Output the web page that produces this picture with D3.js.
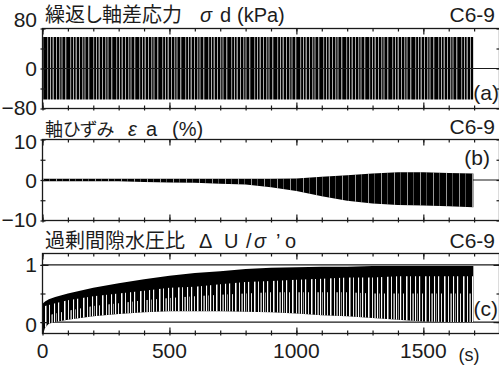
<!DOCTYPE html>
<html><head><meta charset="utf-8">
<script src="https://cdn.jsdelivr.net/npm/d3@7"></script>
<style>
html,body{margin:0;padding:0;background:#fff;}
svg{display:block;}
text{font-family:"Liberation Sans",Arial,sans-serif;fill:#1c1c1c;}
.jp{font-family:"Noto Sans CJK JP",sans-serif;font-feature-settings:"palt";}
</style></head><body>
<svg id="c" width="499" height="366"></svg>
<script>
// ---- data (envelopes of the cyclic records) ----
const xTickLabels = [0, 500, 1000, 1500];
const xMinorTicks = [0,100,200,300,400,500,600,700,800,900,1000,1100,1200,1300,1400,1500,1600,1700,1800];

const stressTimes = [0, 200, 400, 600, 800, 1000, 1200, 1400, 1600, 1697];
const stressUpper = [63, 63, 63, 63, 63, 63, 63, 63, 63, 63];
const stressLower = [-62, -62, -62, -62, -62, -62, -62, -62, -62, -62];

const strainTimes = [0, 100, 200, 300, 400, 500, 600, 700, 800, 900, 1000, 1100, 1200, 1300, 1400, 1500, 1600, 1697];
const strainUpper = [0.3, 0.3, 0.3, 0.3, 0.3, 0.3, 0.3, 0.3, 0.3, 0.3, 0.4, 0.8, 1.2, 1.6, 1.9, 1.9, 1.7, 1.6];
const strainLower = [-0.3, -0.3, -0.3, -0.3, -0.5, -0.6, -0.7, -0.9, -1.1, -1.8, -2.7, -4.0, -5.1, -5.8, -6.2, -6.3, -6.5, -6.7];

const ruTimes = [0, 10, 25, 50, 100, 200, 300, 400, 500, 600, 700, 800, 900, 1000, 1100, 1200, 1300, 1400, 1500, 1600, 1697];
const ruUpper = [0.32, 0.36, 0.40, 0.44, 0.50, 0.60, 0.68, 0.75, 0.81, 0.86, 0.89, 0.93, 0.95, 0.96, 0.97, 0.97, 0.98, 0.98, 0.98, 0.98, 0.98];
const ruLower = [-0.25, -0.1, -0.03, 0.0, 0.04, 0.10, 0.14, 0.17, 0.19, 0.19, 0.19, 0.18, 0.17, 0.15, 0.12, 0.10, 0.07, 0.04, 0.01, 0.0, 0.0];
const ruStripeTop = [0.25, 0.28, 0.3, 0.33, 0.38, 0.45, 0.5, 0.55, 0.6, 0.62, 0.66, 0.7, 0.72, 0.74, 0.76, 0.78, 0.78, 0.8, 0.8, 0.8, 0.8];
const ruStripeMid = [0.1, 0.1, 0.12, 0.15, 0.2, 0.28, 0.33, 0.38, 0.42, 0.45, 0.48, 0.5, 0.52, 0.52, 0.52, 0.52, 0.5, 0.5, 0.5, 0.5, 0.5];

const yTicksA = [-80, -40, 0, 40, 80];
const yLabelsA = ["80", "0", "−80"];
const yTicksB = [-10, -5, 0, 5, 10];
const yLabelsB = ["10", "0", "−10"];
const yTicksC = [0, 0.5, 1];
const yLabelsC = ["1", "0"];

// ---- layout ----
const svg = d3.select('#c');
const L = 42.5, R = 499.5;
const x = d3.scaleLinear().domain([0, 1800]).range([L, R]);

const defs = svg.append('defs');
function pattern(id, w, bg, lines) {
  const p = defs.append('pattern').attr('id', id).attr('patternUnits', 'userSpaceOnUse')
    .attr('width', w).attr('height', 8);
  if (bg) p.append('rect').attr('width', w).attr('height', 8).attr('fill', bg);
  lines.forEach(l => p.append('rect').attr('x', l[0]).attr('y', 0).attr('width', l[1]).attr('height', 8).attr('fill', l[2]));
}
pattern('patA', 23, '#000', [[1, 1.2, '#8a8a8a'], [4, 1, '#b0b0b0'], [6.5, 1.5, '#999'], [10, 1, '#aaa'],
  [13, 1.3, '#8c8c8c'], [15.5, 1, '#bbb'], [19, 1.4, '#999']]);
pattern('patB', 13, null, [[4, 1, '#ffffff'], [10, 0.6, '#dddddd']]);
pattern('patC', 19, null, [[1, 1.2, '#fff'], [7, 1.5, '#fff'], [11, 1, '#eee'], [16, 1.1, '#fff']]);
pattern('patC2', 19, null, [[4, 0.9, '#fff'], [13.5, 1.2, '#fff'], [18, 0.7, '#ddd']]);

const panels = [
  {id: 'a', top: 28.5, bottom: 108.5, dom: [-80, 80]},
  {id: 'b', top: 139.5, bottom: 220.5, dom: [-10, 10]},
  {id: 'c', top: 253.5, bottom: 333.5, dom: [-0.2, 1.2]}
];
panels.forEach(p => {
  p.y = d3.scaleLinear().domain(p.dom).range([p.bottom, p.top]);
  defs.append('clipPath').attr('id', 'clip' + p.id).append('rect')
    .attr('x', L).attr('y', p.top).attr('width', R - L).attr('height', p.bottom - p.top);
});
const [pa, pb, pc] = panels;

function bandArea(p, times, lo, hi) {
  const rows = times.map((t, i) => ({t, lo: lo[i], hi: hi[i]}));
  return d3.area().x(d => x(d.t)).y0(d => p.y(d.lo)).y1(d => p.y(d.hi))(rows);
}

function hline(p, v, w) {
  svg.append('line').attr('x1', L).attr('x2', R).attr('y1', p.y(v)).attr('y2', p.y(v))
    .attr('stroke', '#1a1a1a').attr('stroke-width', w);
}

// panel a data
const ga = svg.append('g').attr('clip-path', 'url(#clipa)');
ga.append('path').attr('d', bandArea(pa, stressTimes, stressLower, stressUpper)).attr('fill', 'url(#patA)');
hline(pa, 0, 1);

// panel b data
hline(pb, 0, 1.2);
const gb = svg.append('g').attr('clip-path', 'url(#clipb)');
gb.append('path').attr('d', bandArea(pb, strainTimes, strainLower, strainUpper)).attr('fill', '#000');
gb.append('path').attr('d', bandArea(pb, strainTimes, strainLower, strainUpper)).attr('fill', 'url(#patB)').attr('opacity', 0.6);

// panel c data
hline(pc, 0, 1.3);
hline(pc, 1, 1.3);
const gc = svg.append('g').attr('clip-path', 'url(#clipc)');
gc.append('path').attr('d', bandArea(pc, ruTimes, ruLower, ruUpper)).attr('fill', '#000');
gc.append('path').attr('d', bandArea(pc, ruTimes, ruLower, ruStripeTop)).attr('fill', 'url(#patC)');
gc.append('path').attr('d', bandArea(pc, ruTimes, ruLower, ruStripeMid)).attr('fill', 'url(#patC2)');

// boxes and ticks
function ticksAxis(axis, tx, ty) {
  const g = svg.append('g').attr('transform', `translate(${tx},${ty})`).call(axis);
  g.select('.domain').remove();
  g.selectAll('line').attr('stroke', '#1a1a1a').attr('stroke-width', 1.2);
  return g;
}
panels.forEach(p => {
  svg.append('rect').attr('x', L).attr('y', p.top).attr('width', R - L).attr('height', p.bottom - p.top)
    .attr('fill', 'none').attr('stroke', '#1a1a1a').attr('stroke-width', 1.3);
  ticksAxis(d3.axisTop(x).tickValues(xMinorTicks).tickSize(-3).tickFormat(''), 0, p.top);
  ticksAxis(d3.axisTop(x).tickValues(xTickLabels).tickSize(-6).tickFormat(''), 0, p.top);
  ticksAxis(d3.axisBottom(x).tickValues(xMinorTicks).tickSize(-3).tickFormat(''), 0, p.bottom);
  ticksAxis(d3.axisBottom(x).tickValues(xMinorTicks).tickSize(2).tickFormat(''), 0, p.bottom);
  ticksAxis(d3.axisBottom(x).tickValues(xTickLabels).tickSize(-6).tickFormat(''), 0, p.bottom);
});
function yTicks(p, vals, inner) {
  ticksAxis(d3.axisRight(p.y).tickValues(vals).tickSize(inner).tickFormat(''), L, 0);
  ticksAxis(d3.axisLeft(p.y).tickValues(vals).tickSize(2).tickFormat(''), L, 0);
  ticksAxis(d3.axisLeft(p.y).tickValues(vals).tickSize(inner).tickFormat(''), R, 0);
}
yTicks(pa, yTicksA, 3);
yTicks(pb, yTicksB, 3);
yTicks(pc, yTicksC, 3);
yTicks(pc, [0, 1], 6);

function lab(txt, xx, yy, anchor, size) {
  return svg.append('text').attr('x', xx).attr('y', yy).attr('text-anchor', anchor || 'end')
    .attr('font-size', size || 21).text(txt);
}
const labX = 37;
lab(yLabelsA[0], labX, 26.5); lab(yLabelsA[1], labX, pa.y(0) + 7.5); lab(yLabelsA[2], labX, 115);
lab(yLabelsB[0], labX, 149); lab(yLabelsB[1], labX, pb.y(0) + 7.5); lab(yLabelsB[2], labX, 227);
lab(yLabelsC[0], labX, pc.y(1) + 7.5); lab(yLabelsC[1], labX, 332);

xTickLabels.forEach(v => lab(String(v), x(v), 358, 'middle'));
lab('(s)', 469, 361, 'middle', 18);

function title(yy, parts) {
  const t = svg.append('text').attr('y', yy).attr('font-size', 20);
  parts.forEach(pt => {
    const s = t.append('tspan').attr('x', pt[0]).text(pt[1]);
    if (pt[2]) s.attr('class', 'jp');
    if (pt[3]) s.attr('font-style', 'italic');
    if (pt[4]) s.attr('font-size', pt[4]);
  });
}
title(22, [[45, '繰返し軸差応力', true], [200, 'σ', false, true], [220, 'd'], [237, '(kPa)']]);
title(136, [[45, '軸ひずみ', true, false, 18], [128, 'ε', false, true], [146, 'a'], [172, '(%)']]);
title(248, [[45, '過剰間隙水圧比', true], [199, 'Δ'], [224, 'U'], [246, '/'], [254, 'σ', false, true], [276, '’'], [285, 'o']]);

lab('C6-9', 495, 22); lab('C6-9', 495, 134); lab('C6-9', 495, 248);
lab('(a)', 499, 100); lab('(b)', 490, 165); lab('(c)', 498, 316);
</script>
</body></html>
